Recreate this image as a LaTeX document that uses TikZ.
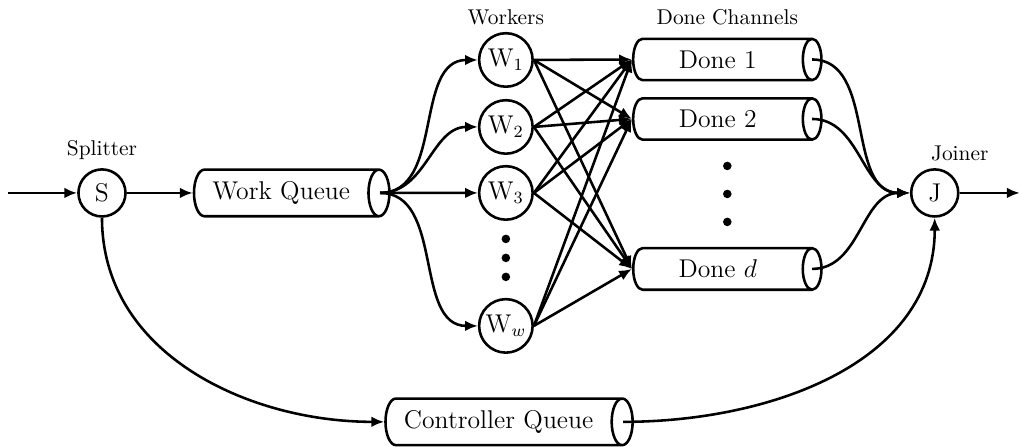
\documentclass[tikz,border=0pt]{standalone}
\usepackage{tikz}
\usetikzlibrary{shapes.geometric,arrows.meta,calc,positioning}

\tikzset{
    proc/.style={circle, draw, line width=1.2pt, minimum size=22pt, inner sep=0pt, font=\large},
    worker/.style={proc, minimum size=25pt},
    queue/.style={cylinder, draw, line width=1.2pt, aspect=0.45, inner xsep=8pt, inner ysep=5.5pt, font=\large},
    done/.style={queue, minimum height=88pt},
    lbl/.style={font=\normalsize},
    flow/.style={line width=1.2pt, -{Latex[length=6pt,width=5pt]}},
}

\begin{document}
\begin{tikzpicture}
    \useasboundingbox (0,0) rectangle (16.77,-7.34);

    % Splitter and joiner
    \node[proc] (split) at (1.675,-3.169) {S};
    \node[lbl] (splitlbl) at (1.675,-2.46) {Splitter};
    \node[proc] (join) at (15.353,-3.169) {J};
    \node[lbl] (joinlbl) at (15.764,-2.512) {Joiner};
    \coordinate (in) at (0.13,-3.169);
    \coordinate (out) at (16.75,-3.169);

    % Queues
    \node[queue] (wq) at (4.62,-3.169) {Work Queue};
    \node[queue] (cq) at (8.19,-6.929) {Controller Queue};

    % Workers
    \node[lbl] (wlbl) at (8.309,-0.279) {Workers};
    \foreach \n/\y in {1/-0.985, 2/-2.085, 3/-3.169, w/-5.353}
        \node[worker] (w\n) at (8.309,\y) {W$_{\n}$};
    \foreach \y in {-3.924,-4.236,-4.548}
        \fill (8.309,\y) circle (2pt);

    % Done channels
    \node[lbl] (dlbl) at (11.946,-0.279) {Done Channels};
    \foreach \n/\y in {1/-0.977, 2/-1.954, d/-4.417}
        \node[done] (d\n) at (11.79,\y) {Done $\n$};
    \foreach \y in {-2.726,-3.186,-3.645}
        \fill (11.946,\y) circle (2pt);

    % Edges
    \draw[flow] (in) -- (split);
    \draw[flow] (split) -- (wq.west);
    \foreach \n in {1,2,3,w}
        \draw[flow] ($(wq.east)+(-5pt,0)$) to[out=0,in=180] (w\n.west);
    \foreach \n in {1,2,3,w}
        \foreach \m in {1,2,d}
            \draw[flow] (w\n.east) -- (d\m.west);
    \foreach \m in {1,2,d}
        \draw[flow] ($(d\m.east)+(-5pt,0)$) to[out=0,in=180] (join.west);
    \draw[flow] (split.south) to[out=270,in=180] (cq.west);
    \draw[flow] ($(cq.east)+(-5pt,0)$) to[out=0,in=270] (join.south);
    \draw[flow] (join) -- (out);
\end{tikzpicture}
\end{document}
